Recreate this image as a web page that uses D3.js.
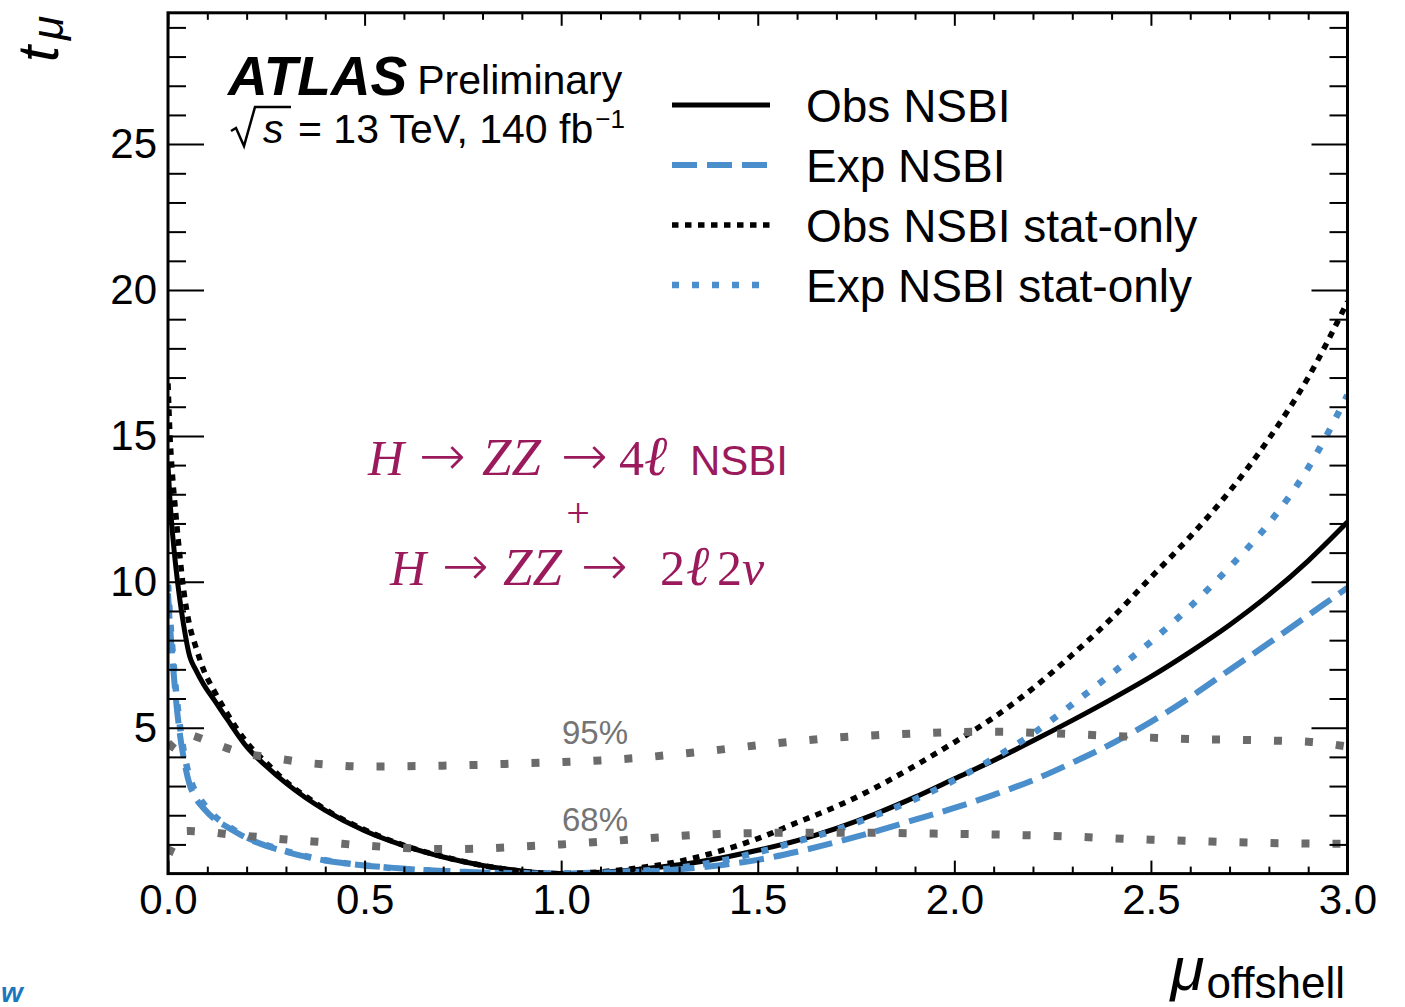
<!DOCTYPE html>
<html>
<head>
<meta charset="utf-8">
<script src="https://cdn.jsdelivr.net/npm/d3@7"></script>
<style>
  body { margin: 0; background: #fff; }
  svg { display: block; }
  text { font-family: "Liberation Sans", Arial, Helvetica, sans-serif; }
</style>
</head>
<body>
<svg id="chart" width="1405" height="1007"></svg>
<script>
// mu_offshell scan points
const mu = [0, 0.005, 0.01, 0.02, 0.03, 0.04, 0.055, 0.07, 0.09, 0.12, 0.15, 0.2, 0.25, 0.3, 0.35, 0.4,
            0.5, 0.6, 0.7, 0.8, 0.9, 1.0, 1.1, 1.2, 1.3, 1.4, 1.5, 1.6, 1.7, 1.8, 1.9, 2.0,
            2.1, 2.2, 2.3, 2.4, 2.5, 2.6, 2.7, 2.8, 2.9, 3.0];

// test statistic t_mu for each scan
const obsNSBI = [14.0, 12.8, 11.9, 10.5, 9.4, 8.5, 7.45, 7.0, 6.5, 5.9, 5.3, 4.35, 3.68, 3.1, 2.6, 2.17,
                 1.47, 0.96, 0.57, 0.28, 0.09, 0.0, 0.05, 0.15, 0.3, 0.52, 0.8, 1.13, 1.55, 2.05, 2.62, 3.25,
                 3.88, 4.55, 5.25, 5.98, 6.75, 7.6, 8.52, 9.55, 10.72, 12.05];
const expNSBI = [9.6, 8.5, 7.6, 6.0, 4.8, 3.95, 3.05, 2.6, 2.25, 1.85, 1.6, 1.22, 0.95, 0.75, 0.58, 0.45,
                 0.28, 0.17, 0.09, 0.04, 0.01, 0.0, 0.02, 0.07, 0.15, 0.28, 0.47, 0.75, 1.08, 1.45, 1.85, 2.25,
                 2.7, 3.2, 3.8, 4.45, 5.2, 6.05, 6.98, 7.9, 8.85, 9.8];
const obsStatOnly = [16.8, 15.0, 13.9, 12.3, 10.9, 9.7, 8.5, 7.8, 7.0, 6.2, 5.5, 4.5, 3.8, 3.15, 2.65, 2.2,
                     1.5, 0.97, 0.58, 0.28, 0.08, 0.0, 0.06, 0.2, 0.42, 0.76, 1.2, 1.75, 2.3, 2.95, 3.7, 4.5,
                     5.35, 6.35, 7.5, 8.75, 10.15, 11.55, 13.1, 14.9, 17.0, 19.6];
const expStatOnly = [9.9, 8.8, 7.9, 6.3, 5.1, 4.2, 3.3, 2.8, 2.4, 1.95, 1.65, 1.25, 0.98, 0.77, 0.6, 0.46,
                     0.28, 0.16, 0.08, 0.03, 0.01, 0.0, 0.03, 0.09, 0.2, 0.42, 0.73, 1.1, 1.5, 2.0, 2.55, 3.2,
                     3.95, 4.8, 5.8, 6.85, 7.95, 9.15, 10.5, 12.0, 13.9, 16.4];
// confidence-level thresholds
const cl95 = [4.2, 4.3, 4.4, 4.55, 4.65, 4.72, 4.75, 4.7, 4.6, 4.45, 4.3, 4.1, 4.0, 3.9, 3.8, 3.74,
              3.67, 3.68, 3.7, 3.73, 3.78, 3.82, 3.88, 3.97, 4.1, 4.24, 4.4, 4.54, 4.66, 4.74, 4.8, 4.85,
              4.86, 4.83, 4.78, 4.72, 4.66, 4.61, 4.59, 4.56, 4.52, 4.35];
const cl68 = [0.6, 0.75, 0.9, 1.15, 1.35, 1.45, 1.46, 1.45, 1.43, 1.4, 1.35, 1.29, 1.23, 1.17, 1.12, 1.07,
              0.96, 0.88, 0.84, 0.86, 0.93, 1.0, 1.09, 1.19, 1.29, 1.36, 1.39, 1.4, 1.4, 1.4, 1.38, 1.36,
              1.34, 1.31, 1.27, 1.21, 1.16, 1.12, 1.08, 1.05, 1.03, 1.02];

const xMajor = [0, 0.5, 1.0, 1.5, 2.0, 2.5, 3.0];
const yMajor = [5, 10, 15, 20, 25];
const legendLabels = ["Obs NSBI", "Exp NSBI", "Obs NSBI stat-only", "Exp NSBI stat-only"];
const clLabels = ["95%", "68%"];

const svg = d3.select("#chart");
const L = 168, R = 1347.5, T = 12.8, B = 873.6;
const x = d3.scaleLinear().domain([0, 3]).range([L, R]);
const y = d3.scaleLinear().domain([0, 29.5]).range([B, T]);

const xMinor = d3.range(0, 31).map(i => i / 10).filter(v => !xMajor.some(m => Math.abs(m - v) < 1e-9));
const yMinor = d3.range(1, 30).filter(v => v % 5 !== 0);

svg.append("defs").append("clipPath").attr("id", "plotclip")
  .append("rect").attr("x", L).attr("y", T).attr("width", R - L).attr("height", B - T);

const blue = "#4a8ecb";
const grey = "#6b6b6b";
const styles = [
  { data: obsNSBI, color: "#000", width: 5, dash: null },
  { data: expNSBI, color: blue, width: 6, dash: "25,10" },
  { data: obsStatOnly, color: "#000", width: 5.5, dash: "6.5,6.5" },
  { data: expStatOnly, color: blue, width: 6.5, dash: "7,13" }
];

const line = d3.line().x(d => x(d[0])).y(d => y(d[1])).curve(d3.curveMonotoneX);
const curves = svg.append("g").attr("clip-path", "url(#plotclip)");

styles.forEach(s => {
  curves.append("path")
    .attr("d", line(mu.map((m, i) => [m, s.data[i]])))
    .attr("fill", "none").attr("stroke", s.color).attr("stroke-width", s.width)
    .attr("stroke-dasharray", s.dash);
});
[cl95, cl68].forEach(c => {
  curves.append("path")
    .attr("d", line(mu.map((m, i) => [m, c[i]])))
    .attr("fill", "none").attr("stroke", grey).attr("stroke-width", 8)
    .attr("stroke-dasharray", "8,23").attr("stroke-dashoffset", -2);
});

// axes: ticks point inward on all four sides
function styleAxis(g) {
  g.select(".domain").remove();
  g.selectAll(".tick line").attr("stroke", "#000").attr("stroke-width", 2);
  g.selectAll(".tick text").attr("fill", "#000").style("font-size", "42px")
    .style("font-family", "'Liberation Sans', Arial, Helvetica, sans-serif");
}
svg.append("g").attr("transform", `translate(0,${B})`)
  .call(d3.axisBottom(x).tickValues(xMajor).tickSize(-13).tickPadding(11).tickFormat(d3.format(".1f")))
  .call(styleAxis);
svg.append("g").attr("transform", `translate(0,${B})`)
  .call(d3.axisBottom(x).tickValues(xMinor).tickSize(-7).tickFormat(""))
  .call(styleAxis);
svg.append("g").attr("transform", `translate(0,${T})`)
  .call(d3.axisTop(x).tickValues(xMajor).tickSize(-13).tickFormat(""))
  .call(styleAxis);
svg.append("g").attr("transform", `translate(0,${T})`)
  .call(d3.axisTop(x).tickValues(xMinor).tickSize(-7).tickFormat(""))
  .call(styleAxis);
svg.append("g").attr("transform", `translate(${L},0)`)
  .call(d3.axisLeft(y).tickValues(yMajor).tickSize(-36).tickPadding(11).tickFormat(d3.format("d")))
  .call(styleAxis);
svg.append("g").attr("transform", `translate(${L},0)`)
  .call(d3.axisLeft(y).tickValues(yMinor).tickSize(-18).tickFormat(""))
  .call(styleAxis);
svg.append("g").attr("transform", `translate(${R},0)`)
  .call(d3.axisRight(y).tickValues(yMajor).tickSize(-36).tickFormat(""))
  .call(styleAxis);
svg.append("g").attr("transform", `translate(${R},0)`)
  .call(d3.axisRight(y).tickValues(yMinor).tickSize(-18).tickFormat(""))
  .call(styleAxis);

svg.append("rect").attr("x", L).attr("y", T).attr("width", R - L).attr("height", B - T)
  .attr("fill", "none").attr("stroke", "#000").attr("stroke-width", 3);

// axis titles
const yt = svg.append("text").attr("transform", "translate(58,62) rotate(-90)");
yt.append("tspan").style("font-size", "58px").style("font-style", "italic").text("t");
yt.append("tspan").attr("dy", 5).attr("dx", 6).style("font-size", "44px").style("font-style", "italic").text("μ");

const xt = svg.append("text").attr("x", 1345).attr("y", 998).attr("text-anchor", "end");
xt.append("tspan").attr("dy", -8).style("font-size", "62px").style("font-style", "italic").text("μ");
xt.append("tspan").attr("dy", 8).attr("dx", 2).style("font-size", "44px").text("offshell");

// experiment label
const atlas = svg.append("text").attr("x", 228).attr("y", 95)
  .style("font-size", "55px").style("font-weight", "bold").style("font-style", "italic").text("ATLAS");
const aw = atlas.node().getComputedTextLength();
svg.append("text").attr("x", 228 + aw + 10).attr("y", 94).style("font-size", "41px").text("Preliminary");

svg.append("path").attr("d", "M231,131 L236,128 L244,146 L255,107 L291,107")
  .attr("fill", "none").attr("stroke", "#000").attr("stroke-width", 2.5).attr("stroke-linejoin", "miter");
svg.append("text").attr("x", 263).attr("y", 143).style("font-size", "41px").style("font-style", "italic").text("s");
const lumi = svg.append("text").attr("x", 298).attr("y", 143).style("font-size", "41px");
lumi.append("tspan").text("= 13 TeV, 140 fb");
lumi.append("tspan").attr("dy", -15).attr("dx", 2).style("font-size", "26px").text("−1");

// legend
const leg = svg.append("g");
styles.forEach((s, i) => {
  const ly = 105 + i * 60;
  leg.append("line").attr("x1", 672).attr("x2", i === 3 ? 763 : 770).attr("y1", ly).attr("y2", ly)
    .attr("stroke", s.color).attr("stroke-width", s.width).attr("stroke-dasharray", s.dash);
  leg.append("text").attr("x", 806).attr("y", ly + 17).style("font-size", "46px").text(legendLabels[i]);
});

// process annotation
const maroon = "#9a1a5c";
const serif = "'Liberation Serif', 'DejaVu Serif', 'Times New Roman', serif";
function mathLine(yb, parts) {
  const t = svg.append("text").attr("y", yb).attr("fill", maroon);
  parts.forEach(p => {
    t.append("tspan").attr("x", p.x)
      .style("font-family", p.sans ? null : (p.arrow ? "'DejaVu Sans', sans-serif" : serif))
      .style("font-weight", p.arrow ? 200 : null)
      .style("font-style", p.it ? "italic" : "normal")
      .style("font-size", (p.size || 50) + "px")
      .text(p.s);
  });
}
mathLine(475, [
  { x: 368, s: "H", it: true }, { x: 419, s: "→", arrow: true, size: 56 }, { x: 482, s: "ZZ", it: true, size: 53 },
  { x: 561, s: "→", arrow: true, size: 56 }, { x: 619, s: "4" }, { x: 644, s: "ℓ", it: true, size: 56 },
  { x: 690, s: "NSBI", sans: true, size: 42 }
]);
svg.append("text").attr("x", 578).attr("y", 527).attr("text-anchor", "middle").attr("fill", maroon)
  .style("font-family", serif).style("font-size", "42px").text("+");
mathLine(585, [
  { x: 390, s: "H", it: true }, { x: 442, s: "→", arrow: true, size: 56 }, { x: 503, s: "ZZ", it: true, size: 53 },
  { x: 581, s: "→", arrow: true, size: 56 }, { x: 660, s: "2" }, { x: 686, s: "ℓ", it: true, size: 56 },
  { x: 717, s: "2" }, { x: 742, s: "ν", it: true }
]);

// confidence-level labels
svg.append("text").attr("x", 562).attr("y", 744).attr("fill", "#747474").style("font-size", "33px").text(clLabels[0]);
svg.append("text").attr("x", 562).attr("y", 831).attr("fill", "#747474").style("font-size", "33px").text(clLabels[1]);

// corner mark
svg.append("text").attr("x", 1).attr("y", 1002).attr("fill", "#1a78c2")
  .style("font-size", "28px").style("font-weight", "bold").style("font-style", "italic").text("w");
</script>
</body>
</html>
